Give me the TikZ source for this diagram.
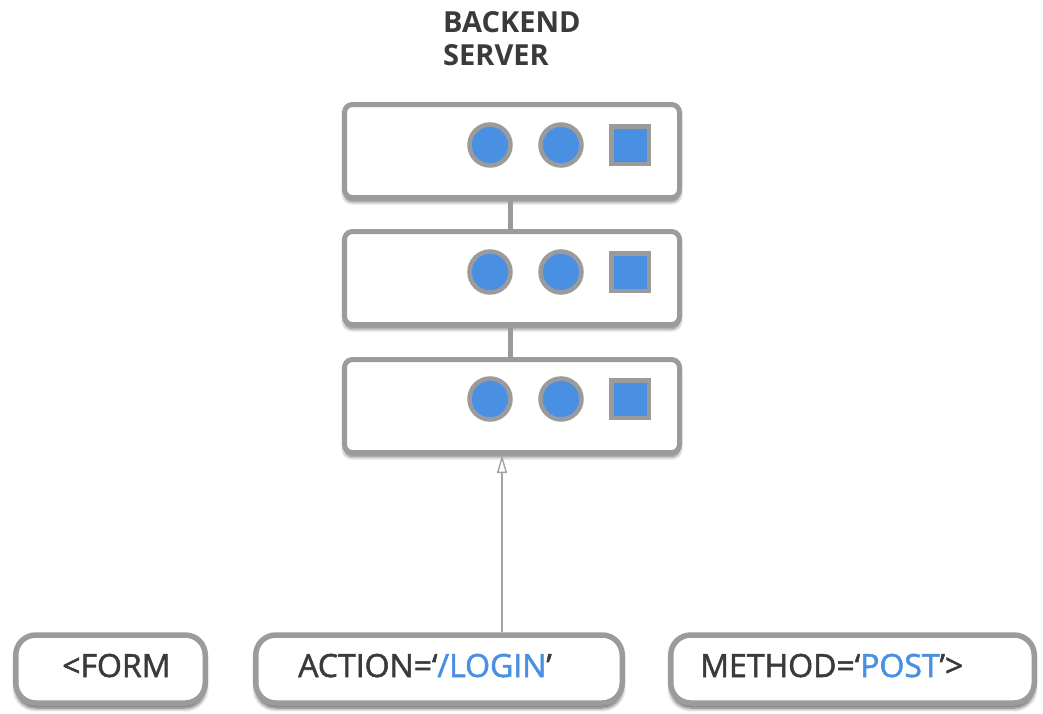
\documentclass[tikz,border=0pt]{standalone}
\usepackage{fontspec}
\setmainfont{Open Sans}
\newfontfamily\tagfont{Open Sans}[FakeBold=1.6]
\usetikzlibrary{arrows.meta,shadows.blur}
\definecolor{bordergray}{HTML}{9B9B9B}
\definecolor{iconblue}{HTML}{4A90E2}
\definecolor{textdark}{HTML}{3A3A3A}
\definecolor{arrowgray}{HTML}{A3A3A3}
\tikzset{
  serverbox/.style={draw=bordergray, line width=5pt, fill=white, rounded corners=8pt,
    minimum width=335pt, minimum height=93pt, inner sep=0pt,
    blur shadow={shadow xshift=0pt, shadow yshift=-4pt, shadow blur radius=4pt, shadow blur steps=8, shadow opacity=60}},
  tagbox/.style={draw=bordergray, line width=5.5pt, fill=white, rounded corners=20pt,
    minimum height=68pt, inner sep=0pt,
    blur shadow={shadow xshift=0pt, shadow yshift=-5pt, shadow blur radius=4pt, shadow blur steps=8, shadow opacity=65}},
  led/.style={circle, draw=bordergray, line width=4.5pt, fill=iconblue, minimum size=41pt, inner sep=0pt},
  sq/.style={rectangle, draw=bordergray, line width=4.5pt, fill=iconblue, minimum size=37.5pt, inner sep=0pt},
  link/.style={draw=bordergray, line width=5pt},
  callarrow/.style={draw=arrowgray, line width=1.6pt, -{Triangle[open, length=18pt, width=10pt, line width=1.4pt]}},
  tagtext/.style={anchor=base west, inner sep=0pt, text=textdark, font=\tagfont\fontsize{32}{36}\selectfont},
  titletext/.style={anchor=base west, inner sep=0pt, text=textdark, font=\bfseries\fontsize{29}{33}\selectfont}
}
\begin{document}
\begin{tikzpicture}[x=1pt,y=-1pt]
\useasboundingbox (0,0) rectangle (1043,713);
% title
\node[titletext] (t1) at (443,32) {BACKEND};
\node[titletext] (t2) at (443,65) {SERVER};
% server boxes
\node[serverbox] (s1) at (512,151) {};
\node[serverbox] (s2) at (512,278) {};
\node[serverbox] (s3) at (512,406) {};
\foreach \s/\y in {s1/145, s2/272, s3/399}{
  \node[led] (\s a) at (490,\y) {};
  \node[led] (\s b) at (561,\y) {};
  \node[sq]  (\s c) at (630,\y) {};
}
\draw[link] ([xshift=-2pt]s1.south) -- ([xshift=-2pt]s2.north);
\draw[link] ([xshift=-2pt]s2.south) -- ([xshift=-2pt]s3.north);
% tag boxes
\node[tagbox, minimum width=189.5pt] (form) at (110.5,669) {};
\node[tagbox, minimum width=366.5pt] (act) at (439,669) {};
\node[tagbox, minimum width=363.5pt] (meth) at (852.5,669) {};
\node[tagtext] (ft) at (62,677) {<FORM};
\node[tagtext] (at) at (298,677) {ACTION=‘\textcolor{iconblue}{/LOGIN}’};
\node[tagtext] (mt) at (700,677) {METHOD=‘\textcolor{iconblue}{POST}’>};
% arrow
\draw[callarrow] ([xshift=63pt]act.north) -- ([xshift=-10pt]s3.south);
\end{tikzpicture}
\end{document}
